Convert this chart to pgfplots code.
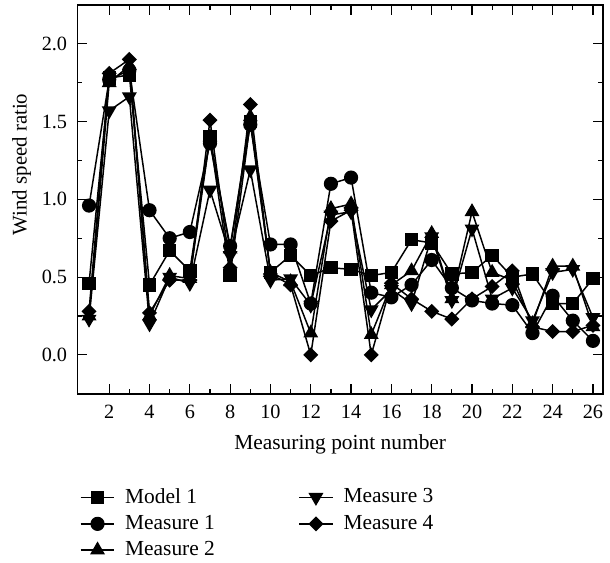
\documentclass[border=0pt]{standalone}
\usepackage{fontspec}
\setmainfont{Liberation Serif}
\usepackage{pgfplots}
\usepackage{pgfplotstable}
\pgfplotsset{compat=1.18}

\pgfplotstableread{
x  mo   m1   m2   m3   m4
1  0.46 0.96 0.25 0.23 0.28
2  1.78 1.77 1.75 1.57 1.81
3  1.80 1.83 1.86 1.66 1.90
4  0.45 0.93 0.25 0.20 0.27
5  0.67 0.75 0.51 0.50 0.48
6  0.54 0.79 0.49 0.46 0.48
7  1.40 1.36 1.40 1.06 1.51
8  0.51 0.70 0.68 0.64 0.56
9  1.50 1.48 1.53 1.19 1.61
10 0.53 0.71 0.53 0.48 0.52
11 0.64 0.71 0.47 0.49 0.45
12 0.51 0.33 0.14 0.32 0.00
13 0.56 1.10 0.94 0.90 0.86
14 0.55 1.14 0.97 0.92 0.93
15 0.51 0.40 0.13 0.29 0.00
16 0.53 0.37 0.45 0.42 0.46
17 0.74 0.45 0.54 0.33 0.36
18 0.72 0.61 0.78 0.76 0.28
19 0.52 0.43 0.36 0.35 0.23
20 0.53 0.35 0.92 0.81 0.36
21 0.64 0.33 0.53 0.36 0.44
22 0.50 0.32 0.48 0.43 0.54
23 0.52 0.14 0.20 0.22 0.18
24 0.33 0.38 0.57 0.53 0.15
25 0.33 0.22 0.57 0.55 0.15
26 0.49 0.09 0.18 0.24 0.19
}\data

\begin{document}
\fontsize{10.5}{12.5}\selectfont
\begin{tikzpicture}
\begin{axis}[
  scale only axis, width=265pt, height=196pt,
  xmin=0.42, xmax=26.5, ymin=-0.25, ymax=2.25,
  xtick={2,4,...,26}, minor x tick num=1,
  ytick={0,0.5,...,2}, minor y tick num=1,
  tick align=inside,
  axis line style={line width=0.8pt},
  every tick/.style={black, line width=0.6pt},
  major tick length=5pt, minor tick length=2.5pt,
  /pgf/number format/assume math mode=true,
  yticklabel style={/pgf/number format/fixed, /pgf/number format/fixed zerofill, /pgf/number format/precision=1, xshift=-1.5pt},
  tick label style={font=\fontsize{10.2}{12}\selectfont},
  xticklabel style={yshift=-2pt},
  xlabel={\fontsize{10.8}{13}\selectfont Measuring point number},
  ylabel={\fontsize{10.5}{13}\selectfont Wind speed ratio},
  xlabel style={at={(axis description cs:0.5,-0.13)}, anchor=center},
  ylabel style={at={(axis description cs:-0.106,0.59)}, anchor=center},
  legend columns=2,
  legend cell align=left,
  legend style={draw=none, fill=none, at={(axis description cs:0.004,-0.232)}, anchor=north west,
    inner sep=0pt, row sep=0.5pt, font=\fontsize{10.8}{13}\selectfont,
    /tikz/every odd column/.append style={column sep=3pt},
    /tikz/every even column/.append style={column sep=40pt}},
  every axis plot/.append style={black, line width=0.75pt},
]
\addlegendimage{black, line width=0.75pt, mark=square*, mark size=3pt}\addlegendentry{Model 1}
\addlegendimage{black, line width=0.75pt, mark=triangle*, mark size=3.6pt, mark options={rotate=180}}\addlegendentry{Measure 3}
\addlegendimage{black, line width=0.75pt, mark=*, mark size=3.2pt}\addlegendentry{Measure 1}
\addlegendimage{black, line width=0.75pt, mark=square*, mark size=2.3pt, mark options={rotate=45}}\addlegendentry{Measure 4}
\addlegendimage{black, line width=0.75pt, mark=triangle*, mark size=3.6pt}\addlegendentry{Measure 2}

\addplot[forget plot, mark=square*, mark size=3pt] table[x=x, y=mo] {\data};
\addplot[forget plot, mark=*, mark size=3.2pt] table[x=x, y=m1] {\data};
\addplot[forget plot, mark=triangle*, mark size=3.6pt] table[x=x, y=m2] {\data};
\addplot[forget plot, mark=triangle*, mark size=3.6pt, mark options={rotate=180}] table[x=x, y=m3] {\data};
\addplot[forget plot, mark=square*, mark size=2.3pt, mark options={rotate=45}] table[x=x, y=m4] {\data};
\end{axis}
\path ([xshift=-39pt,yshift=-82pt]current axis.south west) rectangle ([xshift=1pt,yshift=2.5pt]current axis.north east);
\end{tikzpicture}
\end{document}
